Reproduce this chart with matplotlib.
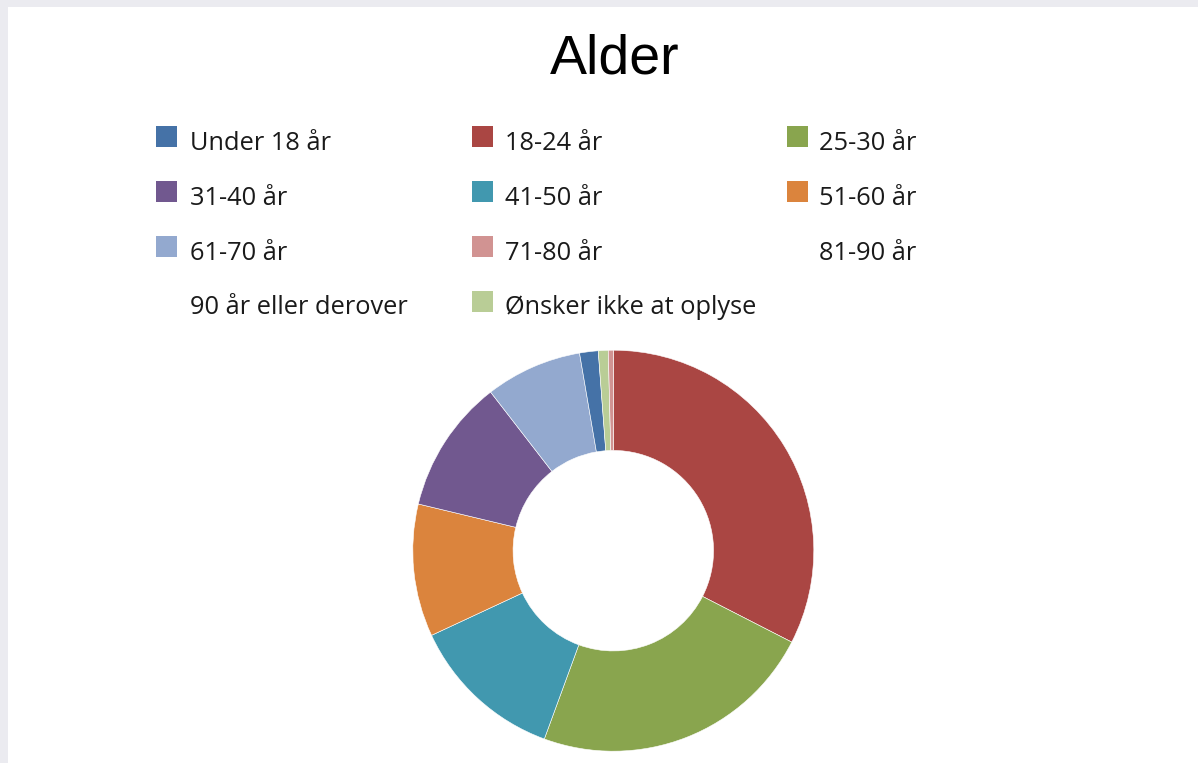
import matplotlib
matplotlib.use("Agg")
import matplotlib.pyplot as plt
from matplotlib.patches import Rectangle

# ---- data (percent shares) ----
categories = ["Under 18 år", "18-24 år", "25-30 år",
              "31-40 år", "41-50 år", "51-60 år",
              "61-70 år", "71-80 år", "81-90 år",
              "90 år eller derover", "Ønsker ikke at oplyse"]
values = [1.5, 32.6, 23.1,
          10.8, 12.5, 10.7,
          7.8, 0.4, 0.0,
          0.0, 0.8]
colors = ["#4572A7", "#AA4643", "#89A54E",
          "#71588F", "#4198AF", "#DB843D",
          "#93A9CF", "#D19392", "none",
          "none", "#B9CD96"]
# order in which the slices appear clockwise from 12 o'clock
draw_order = ["18-24 år", "25-30 år", "41-50 år", "51-60 år", "31-40 år",
              "61-70 år", "Under 18 år", "Ønsker ikke at oplyse", "71-80 år"]
title = "Alder"

W, H = 1198, 763
fig = plt.figure(figsize=(W / 100, H / 100), dpi=100)
fig.patch.set_facecolor("#EBEBF0")

def fx(px):
    return px / W

def fy(py):
    return 1 - py / H

# white chart area
bg = fig.add_axes([fx(8), 0, fx(W - 8), 1 - 7 / H])
bg.set_facecolor("white")
bg.set_xticks([]); bg.set_yticks([])
for s in bg.spines.values():
    s.set_visible(False)

# title
fig.text(fx(615), fy(73), title, ha="center", va="baseline",
         fontsize=40, family="Liberation Sans", color="black")

# legend (row-wise, 3 columns)
col_marker_x = [156, 472, 787]
col_text_x = [190, 505, 819]
row_y = [136.5, 191.5, 246.5, 301]
msize = 21
for i, (cat, col) in enumerate(zip(categories, colors)):
    r, c = divmod(i, 3)
    cy = row_y[r]
    if col != "none":
        fig.patches.append(Rectangle((fx(col_marker_x[c]), fy(cy + msize / 2)),
                                     msize / W, msize / H, transform=fig.transFigure,
                                     facecolor=col, edgecolor="none"))
    fig.text(fx(col_text_x[c]), fy(cy + 13.5), cat, ha="left", va="baseline",
             fontsize=18.3, family="Open Sans", color="#1a1a1a")

# donut
cx, cyc, R = 613.3, 550.7, 200.5
ax = fig.add_axes([fx(cx - R), fy(cyc + R), 2 * R / W, 2 * R / H])
vals = [values[categories.index(n)] for n in draw_order]
cols = [colors[categories.index(n)] for n in draw_order]
ax.pie(vals, colors=cols, startangle=90, counterclock=False, radius=1,
       wedgeprops=dict(width=0.5, edgecolor="white", linewidth=0.4))
ax.set_xlim(-1, 1)
ax.set_ylim(-1, 1)
ax.set_aspect("auto")
ax.axis("off")

fig.savefig("out.png", dpi=100)
